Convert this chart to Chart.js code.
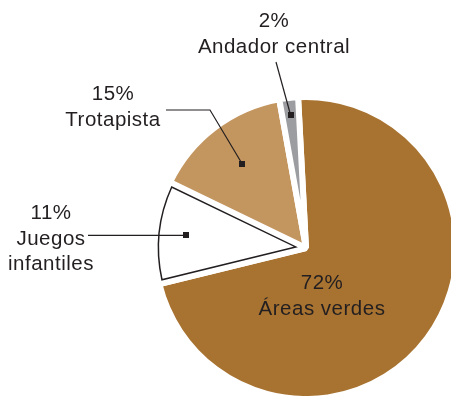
<!DOCTYPE html>
<html>
<head>
<meta charset="utf-8">
<script src="https://cdn.jsdelivr.net/npm/chart.js@4/dist/chart.umd.min.js"></script>
<style>
  html, body { margin: 0; padding: 0; background: #fff; overflow: hidden; }
  #wrap { position: relative; width: 451px; height: 396px; }
  #c { display: block; }
</style>
</head>
<body>
<div id="wrap"><canvas id="c" width="451" height="396"></canvas></div>
<script>
// Distribución del parque (porcentaje de superficie)
const categories = ['Áreas verdes', 'Juegos infantiles', 'Trotapista', 'Andador central'];
const shares = [72, 11, 15, 2];
const nameLines = [['Áreas verdes'], ['Juegos', 'infantiles'], ['Trotapista'], ['Andador central']];
const sliceColors = ['#a87331', '#ffffff', '#c3955f', '#9c9da0'];

const INK = '#231f20';
const FONT = '20.5px "Liberation Sans", Arial, sans-serif';

// Where each label sits and how its leader reaches the slice
const callouts = [
  { x: 322, y: 289, lead: null },
  { x: 51, y: 219, lead: 'horizontal', from: 88, depth: 0.80 },
  { x: 113, y: 100, lead: [[166, 110], [210, 110]], depth: 0.70 },
  { x: 274, y: 27, lead: [[276, 62]], depth: 0.885 }
];

const calloutPlugin = {
  id: 'callouts',
  afterDatasetsDraw(chart) {
    const ctx = chart.ctx;
    const arcs = chart.getDatasetMeta(0).data;
    ctx.save();

    // outline of the white slice, following its visible edge
    const w = arcs[1];
    const d = 3.5;
    const R = w.outerRadius - d;
    const half = (w.endAngle - w.startAngle) / 2;
    const mid = (w.startAngle + w.endAngle) / 2;
    const tipR = d / Math.sin(half);
    const da = Math.asin(d / R);
    ctx.beginPath();
    ctx.moveTo(w.x + Math.cos(mid) * tipR, w.y + Math.sin(mid) * tipR);
    ctx.arc(w.x, w.y, R, w.startAngle + da, w.endAngle - da);
    ctx.closePath();
    ctx.strokeStyle = INK;
    ctx.lineWidth = 1.5;
    ctx.lineJoin = 'miter';
    ctx.stroke();

    ctx.font = FONT;
    if ('letterSpacing' in ctx) ctx.letterSpacing = '0.5px';
    ctx.fillStyle = INK;
    ctx.textAlign = 'center';
    ctx.textBaseline = 'alphabetic';
    callouts.forEach((c, i) => {
      const lines = [shares[i] + '%'].concat(nameLines[i]);
      lines.forEach((t, k) => ctx.fillText(t, c.x, c.y + k * 25.5));
      if (!c.lead) return;
      const a = arcs[i];
      const m = (a.startAngle + a.endAngle) / 2;
      const mx = a.x + Math.cos(m) * a.outerRadius * c.depth;
      const my = a.y + Math.sin(m) * a.outerRadius * c.depth;
      ctx.beginPath();
      if (c.lead === 'horizontal') {
        ctx.moveTo(c.from, my);
      } else {
        c.lead.forEach((p, k) => k ? ctx.lineTo(p[0], p[1]) : ctx.moveTo(p[0], p[1]));
      }
      ctx.lineTo(mx, my);
      ctx.lineWidth = 1.2;
      ctx.strokeStyle = INK;
      ctx.stroke();
      ctx.fillRect(Math.round(mx) - 3, Math.round(my) - 3, 6, 6);
    });
    ctx.restore();
  }
};

new Chart(document.getElementById('c'), {
  type: 'pie',
  data: {
    labels: categories,
    datasets: [{
      data: shares,
      backgroundColor: sliceColors,
      borderColor: '#ffffff',
      borderWidth: 6,
      clip: false
    }]
  },
  options: {
    responsive: false,
    animation: false,
    devicePixelRatio: 1,
    rotation: -3,
    radius: 151,
    layout: { padding: { left: 161, right: 0, top: 100, bottom: 0 } },
    plugins: { legend: { display: false }, tooltip: { enabled: false }, title: { display: false } },
    events: []
  },
  plugins: [calloutPlugin]
});
</script>
</body>
</html>
